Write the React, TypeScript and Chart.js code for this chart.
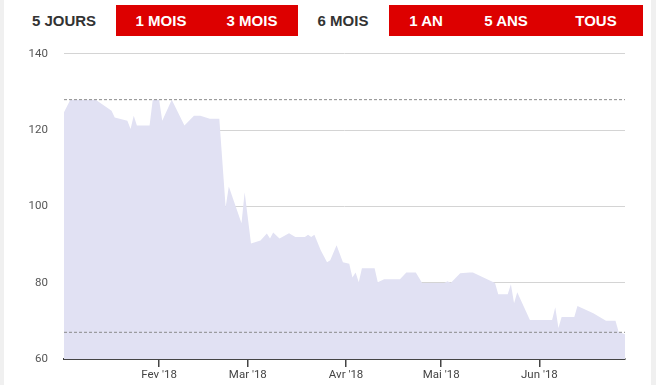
import React, { useEffect, useRef } from "react";
import { Chart, registerables } from "chart.js";

Chart.register(...registerables);

// Day index: days since 1 Jan 2018 (1 Jan = 0)
const days = [1, 3, 11, 16, 17, 21, 22, 23, 24, 28, 29, 31, 32, 35, 39, 42, 44, 47, 50, 52, 53, 57, 58, 60, 63, 65, 66, 67, 69, 72, 74, 77, 78, 79, 80, 82, 84, 85, 87, 89, 91, 92, 93, 94, 95, 99, 100, 102, 107, 109, 112, 114, 121, 122, 123, 126, 129, 130, 137, 138, 141, 142, 143, 144, 148, 155, 156, 157, 158, 162, 163, 168, 172, 175, 176, 178];
const prices = [124.7, 128, 128, 125.1, 123.3, 122.5, 120.3, 123.8, 121.2, 121.2, 128, 128, 122.5, 128, 121.2, 123.8, 123.8, 123, 123, 99.8, 105.2, 95.6, 103.7, 90.3, 91.1, 92.9, 91.6, 93.2, 91.6, 93, 92, 92, 92.6, 92, 92.6, 88.5, 85.4, 85.9, 89.8, 85.4, 85, 81.4, 82.7, 80.1, 83.8, 83.8, 80.1, 80.9, 80.9, 82.7, 82.7, 79.9, 79.9, 80.4, 79.9, 82.5, 82.7, 82.7, 79.9, 77, 77, 79.6, 74.6, 77.5, 70.2, 70.2, 73.6, 68.1, 71, 71, 73.9, 72, 70, 70, 67.1, 66.5];

const highLevel = 128;
const lowLevel = 67;

const monthTicks = [31, 59, 90, 120, 151];
const monthLabels = ["Fev '18", "Mar '18", "Avr '18", "Mai '18", "Jun '18"];

const yTicks = [60, 80, 100, 120, 140];

const buttons = [
  { label: "5 JOURS", center: 64, active: false },
  { label: "1 MOIS", center: 161, active: true },
  { label: "3 MOIS", center: 252, active: true },
  { label: "6 MOIS", center: 343, active: false },
  { label: "1 AN", center: 426, active: true },
  { label: "5 ANS", center: 506, active: true },
  { label: "TOUS", center: 596, active: true },
];

export default function App() {
  const ref = useRef<HTMLCanvasElement>(null);

  useEffect(() => {
    document.body.style.margin = "0";
    const canvas = ref.current!;
    const xMin = days[0];
    const xMax = days[days.length - 1];
    const chart = new Chart(canvas, {
      type: "line",
      data: {
        datasets: [
          {
            data: [{ x: xMin, y: highLevel }, { x: xMax, y: highLevel }],
            borderColor: "#8a8a8a",
            borderWidth: 1,
            borderDash: [3, 2],
            pointRadius: 0,
            fill: false,
            order: 0,
          },
          {
            data: [{ x: xMin, y: lowLevel }, { x: xMax, y: lowLevel }],
            borderColor: "#8a8a8a",
            borderWidth: 1,
            borderDash: [3, 2],
            pointRadius: 0,
            fill: false,
            order: 0,
          },
          {
            data: days.map((d, i) => ({ x: d, y: prices[i] })),
            backgroundColor: "#e1e1f3",
            borderWidth: 0,
            borderColor: "rgba(0,0,0,0)",
            pointRadius: 0,
            fill: "start",
            tension: 0,
            order: 1,
          },
        ],
      },
      options: {
        animation: false,
        responsive: false,
        devicePixelRatio: 1,
        layout: { padding: { top: 4, right: 26, bottom: 0, left: 0 } },
        plugins: { legend: { display: false }, tooltip: { enabled: false } },
        scales: {
          x: {
            type: "linear",
            min: xMin,
            max: xMax,
            afterBuildTicks: (s: any) => {
              s.ticks = monthTicks.map((v) => ({ value: v }));
            },
            afterFit: (s: any) => {
              s.height = 26;
            },
            ticks: {
              autoSkip: false,
              maxRotation: 0,
              padding: 1,
              color: "#444",
              font: { family: "Roboto", size: 11.5 },
              callback: (v: any) => {
                const i = monthTicks.indexOf(Number(v));
                return i >= 0 ? monthLabels[i] : "";
              },
            },
            grid: {
              drawOnChartArea: false,
              drawTicks: true,
              tickLength: 8,
              color: "#444",
              lineWidth: 1.5,
            },
            border: { display: true, color: "#444", width: 2 },
          },
          y: {
            min: 60,
            max: 140,
            afterBuildTicks: (s: any) => {
              s.ticks = yTicks.map((v) => ({ value: v }));
            },
            afterFit: (s: any) => {
              s.width = 64;
            },
            ticks: {
              padding: 16,
              color: "#555",
              font: { family: "Roboto", size: 11.5 },
            },
            grid: { drawTicks: false, color: "#d4d4d4", lineWidth: 1 },
            border: { display: false },
          },
        },
      },
    });
    return () => chart.destroy();
  }, []);

  return (
    <div
      style={{
        position: "fixed",
        left: 0,
        top: 0,
        width: 656,
        height: 385,
        background: "#fff",
        overflow: "hidden",
        fontFamily: "'Liberation Sans', Arial, sans-serif",
      }}
    >
      <div style={{ position: "absolute", left: 0, top: 0, width: 4, height: 385, background: "#f0f0f0" }} />
      <div style={{ position: "absolute", left: 651, top: 0, width: 5, height: 385, background: "#f0f0f0" }} />
      <div style={{ position: "absolute", left: 116, top: 5, width: 182, height: 31, background: "#dd0000" }} />
      <div style={{ position: "absolute", left: 389, top: 5, width: 254, height: 31, background: "#dd0000" }} />
      {buttons.map((b) => (
        <div
          key={b.label}
          style={{
            position: "absolute",
            left: b.center - 50,
            width: 100,
            top: 5,
            height: 31,
            lineHeight: "31px",
            textAlign: "center",
            fontWeight: "bold",
            fontSize: 15,
            color: b.active ? "#fff" : "#333",
          }}
        >
          {b.label}
        </div>
      ))}
      <canvas
        ref={ref}
        width={651}
        height={354}
        style={{ position: "absolute", left: 0, top: 31, width: 651, height: 354 }}
      />
    </div>
  );
}
